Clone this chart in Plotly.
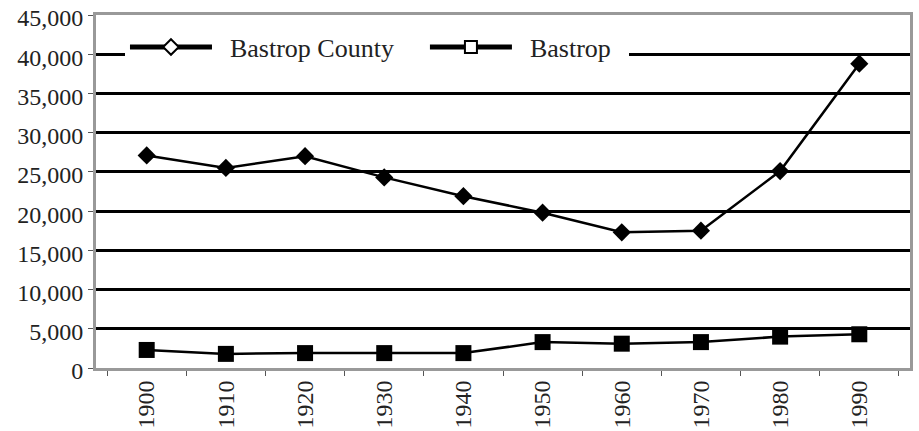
import plotly.graph_objects as go

years = ["1900", "1910", "1920", "1930", "1940", "1950", "1960", "1970", "1980", "1990"]
county = [27100, 25500, 27000, 24300, 21900, 19800, 17300, 17500, 25100, 38800]
city = [2300, 1800, 1900, 1900, 1900, 3300, 3100, 3300, 4000, 4300]
series_names = ["Bastrop County", "Bastrop"]

font_family = "Liberation Serif"
fs = 24
nb = "\u00a0"

fig = go.Figure()
fig.add_trace(go.Scatter(x=years, y=county, mode="lines+markers", showlegend=False,
                         line=dict(color="black", width=2.5),
                         marker=dict(symbol="diamond", size=14, color="black")))
fig.add_trace(go.Scatter(x=years, y=city, mode="lines+markers", showlegend=False,
                         line=dict(color="black", width=2.5),
                         marker=dict(symbol="square", size=16, color="black")))
# legend entries (open markers as in the reference legend)
fig.add_trace(go.Scatter(x=[None], y=[None], mode="lines+markers",
                         name=nb * 2 + series_names[0] + nb * 4,
                         line=dict(color="black", width=2.5),
                         marker=dict(symbol="diamond", size=10, color="white",
                                     line=dict(color="black", width=2))))
fig.add_trace(go.Scatter(x=[None], y=[None], mode="lines+markers",
                         name=nb * 2 + series_names[1] + nb * 2,
                         line=dict(color="black", width=2.5),
                         marker=dict(symbol="square", size=11, color="white",
                                     line=dict(color="black", width=2))))

fig.update_layout(
    width=919, height=431,
    margin=dict(l=96, r=9, t=15, b=63, autoexpand=False),
    paper_bgcolor="white", plot_bgcolor="white",
    font=dict(family=font_family, size=fs, color="#222"),
    legend=dict(orientation="h", x=0.0356, y=0.909, xanchor="left", yanchor="middle",
                bgcolor="white", itemwidth=82, font=dict(size=26, family=font_family),
                itemsizing="constant", tracegroupgap=0),
)
fig.update_xaxes(type="category", tickangle=-90, ticks="outside", tickson="boundaries",
                 ticklen=5, tickcolor="#555", showgrid=False, automargin=False,
                 showline=True, linecolor="#999", linewidth=3, mirror=True,
                 tickfont=dict(size=fs, family=font_family))
fig.update_yaxes(range=[0, 45000], dtick=5000, tickformat=",", ticks="outside",
                 ticklen=5, tickcolor="#555", automargin=False,
                 ticklabeloverflow="allow", ticklabelshift=3,
                 showgrid=True, gridcolor="black", gridwidth=2.5,
                 zeroline=False,
                 showline=True, linecolor="#999", linewidth=3, mirror=True,
                 tickfont=dict(size=fs, family=font_family))

fig.write_html("out.html", config={"displayModeBar": False},
               post_script="document.body.style.margin='0';")
